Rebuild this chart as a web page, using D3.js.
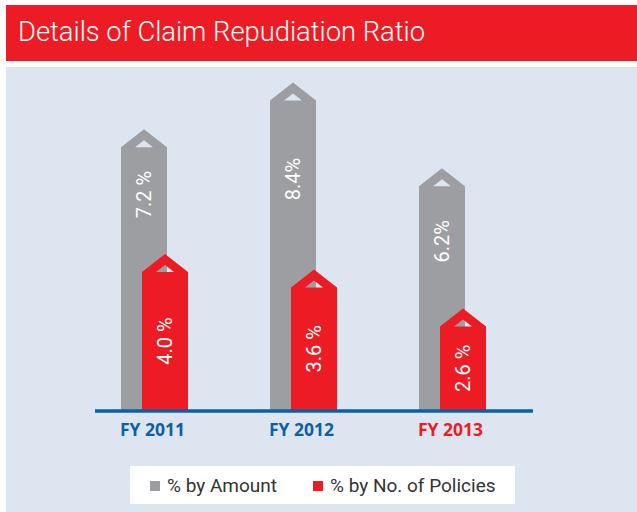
<!DOCTYPE html>
<html>
<head>
<meta charset="utf-8">
<script src="https://cdn.jsdelivr.net/npm/d3@7/dist/d3.min.js"></script>
<style>
  html, body { margin: 0; padding: 0; background: #ffffff; }
  svg { display: block; }
</style>
</head>
<body>
<svg id="chart" width="637" height="512"></svg>
<script>
// Claim repudiation ratio by fiscal year
const years = ["FY 2011", "FY 2012", "FY 2013"];
const byAmount = [7.2, 8.4, 6.2];
const byPolicies = [4.0, 3.6, 2.6];
const amountLabels = ["7.2 %", "8.4%", "6.2%"];
const policyLabels = ["4.0 %", "3.6 %", "2.6 %"];
const seriesNames = ["% by Amount", "% by No. of Policies"];

const RED = "#ed1c24", GREY = "#9d9ea2", BLUE = "#0b5fa5", PANEL = "#dde5f0";
const FONT = "'Liberation Sans Narrow', Roboto, 'DejaVu Sans', sans-serif";

const svg = d3.select("#chart");

// title banner
svg.append("rect").attr("x", 6).attr("y", 5).attr("width", 631).attr("height", 56).attr("fill", RED);
svg.append("text").attr("x", 18).attr("y", 41)
  .attr("fill", "#fff").attr("font-family", "Roboto, sans-serif").attr("font-weight", 300)
  .attr("font-size", 27).attr("textLength", 407).attr("lengthAdjust", "spacingAndGlyphs")
  .text("Details of Claim Repudiation Ratio");

// chart panel
svg.append("rect").attr("x", 6).attr("y", 67).attr("width", 631).attr("height", 445).attr("fill", PANEL);

const baseline = 410;
const x = d3.scalePoint().domain(years).range([154.5, 452.5]);
const y = d3.scaleLinear().domain([0, 8.4]).range([baseline, 82.4]);
const barW = 46, head = 18, notchW = 18, notchH = 7;

// bar with a pointed cap and a small triangular cut-out under the tip
function arrowPath(x0, top) {
  const cx = x0 + barW / 2, sh = top + head;
  const outer = `M${x0},${baseline}L${x0},${sh}L${cx},${top}L${x0 + barW},${sh}L${x0 + barW},${baseline}Z`;
  const notch = `M${cx - notchW / 2},${sh}L${cx},${sh - notchH}L${cx + notchW / 2},${sh}Z`;
  return outer + notch;
}

const g = svg.append("g");
years.forEach((yr, i) => {
  const c = x(yr);
  const gx = c - 33.5, rx = c - 12.5;
  const gTop = y(byAmount[i]), rTop = y(byPolicies[i]);

  g.append("path").attr("d", arrowPath(gx, gTop)).attr("fill", GREY).attr("fill-rule", "evenodd");
  g.append("path").attr("d", arrowPath(rx, rTop)).attr("fill", RED).attr("fill-rule", "evenodd");

  // value labels, rotated inside the bars
  const gy = (gTop + head + rTop) / 2 - 6;
  g.append("text")
    .attr("transform", `translate(${gx + barW / 2 + 7},${gy}) rotate(-90)`)
    .attr("text-anchor", "middle").attr("fill", "#fff")
    .attr("font-family", FONT).attr("font-size", 20)
    .text(amountLabels[i]);
  const ry = (rTop + head + baseline) / 2;
  g.append("text")
    .attr("transform", `translate(${rx + barW / 2 + 7},${ry}) rotate(-90)`)
    .attr("text-anchor", "middle").attr("fill", "#fff")
    .attr("font-family", FONT).attr("font-size", 20)
    .text(policyLabels[i]);
});

// baseline axis
svg.append("line").attr("x1", 95).attr("x2", 533).attr("y1", 411).attr("y2", 411)
  .attr("stroke", BLUE).attr("stroke-width", 3.5);

// category labels
svg.selectAll(".cat").data(years).enter().append("text")
  .attr("x", d => x(d) - 2).attr("y", 436)
  .attr("text-anchor", "middle").attr("font-family", "'Open Sans', Roboto, sans-serif")
  .attr("font-weight", 700).attr("font-size", 17.5)
  .attr("fill", (d, i) => i === years.length - 1 ? RED : BLUE)
  .text(d => d);

// legend
svg.append("rect").attr("x", 130).attr("y", 466).attr("width", 385).attr("height", 38).attr("fill", "#fff");
const legendX = [150, 313];
seriesNames.forEach((name, i) => {
  svg.append("rect").attr("x", legendX[i]).attr("y", 481).attr("width", 10).attr("height", 10)
    .attr("fill", i === 0 ? GREY : RED);
  svg.append("text").attr("x", legendX[i] + 17).attr("y", 492)
    .attr("font-family", "Roboto, sans-serif").attr("font-size", 19).attr("fill", "#333")
    .text(name);
});
</script>
</body>
</html>
